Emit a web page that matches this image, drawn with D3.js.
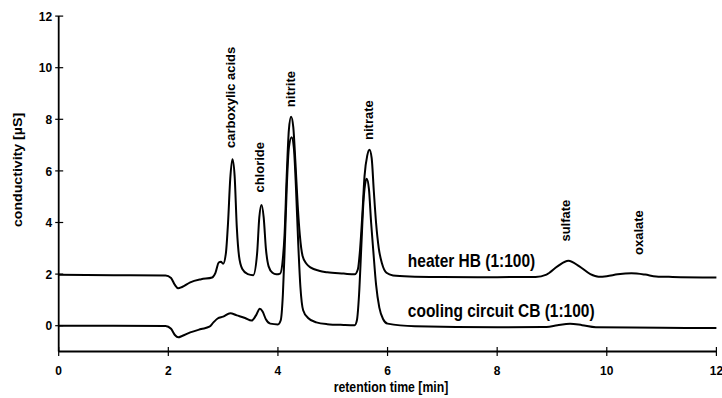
<!DOCTYPE html>
<html><head><meta charset="utf-8">
<script src="https://cdn.jsdelivr.net/npm/d3@7"></script>
<style>
body{margin:0;background:#fff;}
text{font-family:"Liberation Sans",Arial,sans-serif;font-weight:bold;fill:#000;}
</style></head>
<body><svg id="chart" width="722" height="398"></svg>
<script>
// x ticks / y ticks
const xTicks = [0, 2, 4, 6, 8, 10, 12];
const yTicks = [0, 2, 4, 6, 8, 10, 12];

// heater HB (1:100): retention time [min], conductivity [µS]
const heaterTimes = [0,1.0,1.95,2.05,2.12,2.18,2.25,2.4,2.6,2.8,2.86,2.92,2.96,3.0,3.05,3.09,3.13,3.17,3.21,3.25,3.29,3.35,3.45,3.55,3.62,3.66,3.70,3.74,3.78,3.83,3.9,3.97,4.04,4.09,4.12,4.16,4.20,4.24,4.28,4.32,4.36,4.40,4.45,4.52,4.6,4.75,4.9,5.2,5.40,5.46,5.50,5.54,5.58,5.63,5.67,5.71,5.75,5.79,5.84,5.90,5.98,6.1,6.4,7.0,8.0,8.7,8.9,9.1,9.3,9.5,9.7,9.85,10.0,10.2,10.45,10.7,10.9,11.2,12.0];
const heaterValues = [1.97,1.96,1.95,1.85,1.58,1.45,1.50,1.68,1.80,1.87,2.05,2.45,2.48,2.40,2.8,4.0,5.7,6.45,5.8,3.8,2.7,2.2,2.0,1.96,2.8,4.2,4.68,4.2,3.0,2.3,2.05,1.99,2.02,2.6,3.5,5.8,7.6,8.1,7.7,6.3,4.7,3.5,2.7,2.4,2.25,2.13,2.07,2.02,1.99,2.2,3.0,4.3,5.8,6.6,6.82,6.5,5.2,4.0,3.0,2.4,2.05,1.95,1.91,1.89,1.88,1.89,1.98,2.3,2.52,2.3,2.0,1.90,1.92,1.99,2.03,1.98,1.91,1.89,1.87];

// cooling circuit CB (1:100)
const coolingTimes = [0,1.0,1.95,2.05,2.12,2.18,2.25,2.4,2.6,2.75,2.82,2.9,3.0,3.13,3.25,3.4,3.52,3.6,3.67,3.72,3.78,3.86,4.0,4.05,4.09,4.12,4.16,4.20,4.25,4.29,4.33,4.37,4.41,4.46,4.55,4.7,4.9,5.2,5.40,5.44,5.48,5.52,5.56,5.60,5.62,5.66,5.70,5.74,5.79,5.85,5.92,6.0,6.5,8.0,8.9,9.1,9.33,9.55,9.8,11.0,12.0];
const coolingValues = [0,0,-0.01,-0.12,-0.36,-0.45,-0.40,-0.26,-0.13,-0.04,0.12,0.28,0.35,0.48,0.40,0.30,0.20,0.40,0.66,0.55,0.25,0.08,0.05,0.2,1.2,2.8,5.3,6.9,7.3,6.9,5.3,3.2,1.5,0.6,0.3,0.13,0.06,0.03,0.02,0.2,1.2,3.0,4.8,5.6,5.7,5.3,4.0,2.9,1.6,0.7,0.25,0.08,-0.02,-0.06,-0.05,0.02,0.08,0.02,-0.06,-0.08,-0.09];

// peak annotations (label anchor in data units)
const peakNames = ["carboxylic acids","chloride","nitrite","nitrate","sulfate","oxalate"];
const peakLabelTimes = [3.21, 3.75, 4.31, 5.73, 9.33, 10.66];
const peakLabelValues = [6.89, 5.16, 8.47, 7.2, 3.26, 2.74];

// series labels
const seriesNames = ["heater HB (1:100)", "cooling circuit CB (1:100)"];
const seriesLabelTimes = [6.37, 6.37];
const seriesLabelValues = [2.27, 0.33];

const xTitle = "retention time [min]";
const yTitle = "conductivity [µS]";

const svg = d3.select("#chart");
const x = d3.scaleLinear().domain([0, 12]).range([58.7, 716.4]);
const y = d3.scaleLinear().domain([-1, 12]).range([351.5, 16.1]);

// axes lines
svg.append("line").attr("x1", x(0)).attr("x2", x(12)).attr("y1", y(-1)).attr("y2", y(-1))
  .attr("stroke", "#000").attr("stroke-width", 1.8);
svg.append("line").attr("x1", x(0)).attr("x2", x(0)).attr("y1", y(-1)).attr("y2", y(12))
  .attr("stroke", "#000").attr("stroke-width", 1.8);

// x ticks
const xg = svg.append("g");
xTicks.forEach(t => {
  xg.append("line").attr("x1", x(t)).attr("x2", x(t)).attr("y1", y(-1) - 4.5).attr("y2", y(-1) + 4.5)
    .attr("stroke", "#000").attr("stroke-width", 1.2);
  xg.append("text").attr("transform", `translate(${x(t)},${y(-1) + 23}) scale(1,1.1)`).attr("text-anchor", "middle")
    .attr("font-size", 12).text(t);
});
// y ticks
const yg = svg.append("g");
yTicks.forEach(v => {
  yg.append("line").attr("x1", x(0) - 3.5).attr("x2", x(0) + 4.5).attr("y1", y(v)).attr("y2", y(v))
    .attr("stroke", "#000").attr("stroke-width", 1.2);
  yg.append("text").attr("transform", `translate(${x(0) - 6.5},${y(v) + 4.6}) scale(1,1.1)`).attr("text-anchor", "end")
    .attr("font-size", 12).text(v);
});

// titles
svg.append("text").attr("transform", "translate(391,392) scale(1,1.12)").attr("text-anchor", "middle").attr("font-size", 12.3).text(xTitle);
svg.append("text").attr("transform", "translate(22,170) rotate(-90) scale(1.18,1)").attr("text-anchor", "middle")
  .attr("font-size", 12).text(yTitle);

// lines
const line = d3.line().x(d => x(d[0])).y(d => y(d[1])).curve(d3.curveMonotoneX);
const heater = heaterTimes.map((t, i) => [t, heaterValues[i]]);
const cooling = coolingTimes.map((t, i) => [t, coolingValues[i]]);
[heater, cooling].forEach(s => {
  svg.append("path").datum(s).attr("d", line).attr("fill", "none").attr("stroke", "#000")
    .attr("stroke-width", 2).attr("stroke-linejoin", "round");
});

// peak labels
peakNames.forEach((n, i) => {
  svg.append("text")
    .attr("transform", `translate(${x(peakLabelTimes[i])},${y(peakLabelValues[i])}) rotate(-90)`)
    .attr("font-size", 13).text(n);
});

// series labels
seriesNames.forEach((n, i) => {
  svg.append("text").attr("transform", `translate(${x(seriesLabelTimes[i])},${y(seriesLabelValues[i])}) scale(1,1.15)`)
    .attr("font-size", 15.5).text(n);
});
</script></body></html>
